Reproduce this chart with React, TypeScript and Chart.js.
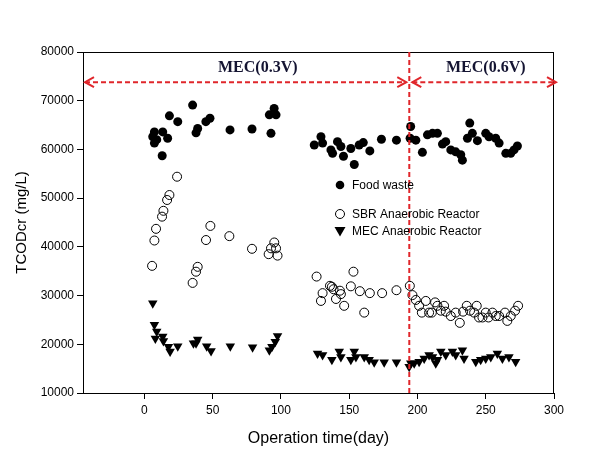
import React, { useEffect, useRef } from "react";
import { Chart, registerables } from "chart.js";
Chart.register(...registerables);

const foodDays = [6.1, 7.3, 7.3, 9, 13.4, 13, 17, 18.3, 24.4, 35.3, 37.8, 39, 45, 48, 62.7, 78.8, 91.5, 92.7, 95, 96.4,
  124.4, 129.3, 130.5, 136.6, 137.8, 141.4, 143.9, 145.8, 151.2, 153.7, 157.3, 160.3, 165.1, 173.6, 184.6,
  195, 194.6, 198.8, 203.6, 207.3, 211, 214.6, 218.3, 220.7, 224.4, 228, 232.9, 231.7, 238.3, 236.6, 240.2,
  243.9, 250, 252.4, 257.3, 259.8, 264.7, 268.3, 270.7, 273.2];
const foodValues = [62600, 63600, 61300, 62000, 63600, 58700, 62300, 66900, 65700, 69100, 63400, 64300, 65700, 66400, 64000, 64200, 67100, 63300, 68400, 67100,
  60900, 62600, 61300, 59900, 59200, 61600, 60600, 58600, 60200, 56900, 60900, 61400, 59700, 62100, 61900,
  64700, 62300, 61900, 59400, 63000, 63300, 63300, 61100, 61600, 59900, 59500, 57800, 58900, 65400, 62300, 63300,
  61800, 63300, 62600, 62300, 61300, 59200, 59200, 59900, 60700];

const sbrDays = [5.6, 7.3, 8.5, 12.9, 13.9, 16.6, 18.3, 23.9, 35.3, 37.8, 39, 45.1, 48.3, 62.2, 78.8, 91, 92.7, 95.1, 96.4, 97.5,
  126.1, 129.3, 130.5, 135.9, 137.3, 138.5, 140.3, 143.2, 143.9, 146.3, 151.2, 153.1, 157.8, 161, 165.1, 174.1, 184.6,
  194.4, 196.3, 198.8, 201.2, 203.2, 206.1, 208.5, 210.5, 212.9, 214.6, 217.1, 219.5, 220.7, 224.4, 228, 231, 233.4,
  236.1, 238.5, 241.5, 243.4, 245.1, 247.6, 250, 252, 254.9, 257.3, 259.8, 264.1, 265.8, 268.3, 271.5, 273.7];
const sbrValues = [36100, 41300, 43700, 46200, 47400, 49620, 50640, 54400, 32600, 34900, 35900, 41400, 44300, 42200, 39600, 38500, 39700, 40900, 39700, 38200,
  33900, 28900, 30500, 32000, 31800, 31300, 29300, 31000, 30300, 27900, 31900, 34900, 30900, 26500, 30500, 30500, 31100,
  32000, 30100, 29100, 27900, 26500, 28900, 26500, 26500, 28600, 27900, 26900, 27900, 26700, 25800, 26500, 24400, 26700,
  27900, 26900, 26500, 27900, 25500, 25500, 26500, 25500, 26500, 25800, 25800, 26500, 24800, 25800, 26900, 27900];

const mecDays = [6.1, 7.3, 9, 8, 13.4, 13.9, 17.6, 18.8, 24.4, 35.9, 39, 37.8, 45.6, 48.8, 62.9, 79.2, 91.5, 93.4, 95.8, 97.5,
  126.8, 130.5, 137.3, 142.7, 143.9, 151.2, 153.7, 154.9, 161, 164.6, 168.3, 175.6, 184.6,
  193.9, 195.1, 197.6, 201.2, 204.9, 208.5, 211, 213.4, 214.6, 217.1, 220.7, 225.6, 228, 232.9, 234.1,
  242.7, 246.3, 250, 253.7, 258.5, 262.2, 267, 271.9];
const mecValues = [28400, 24000, 22600, 21200, 21600, 20700, 19500, 18500, 19600, 20200, 21000, 20200, 19600, 18600, 19600, 19400, 18800, 19500, 20500, 21700,
  18100, 17800, 16800, 18500, 17400, 16800, 18500, 17400, 17400, 16800, 16300, 16300, 16300,
  15400, 16100, 16100, 16400, 17100, 17800, 17400, 16100, 16800, 18500, 17800, 18500, 17800, 18800, 17100,
  16400, 16800, 17100, 17400, 18100, 17100, 17400, 16400];

const xTicks = [0, 50, 100, 150, 200, 250, 300];
const yTicks = [10000, 20000, 30000, 40000, 50000, 60000, 70000, 80000];
const seriesNames = ["Food waste", "SBR Anaerobic Reactor", "MEC Anaerobic Reactor"];
const phaseBoundary = 194;
const phaseLabels = ["MEC(0.3V)", "MEC(0.6V)"];
const phaseLabelDays = [83, 250];
const arrowLevel = 73800;
const phaseLabelLevel = 76700;

const toPts = (xs: number[], ys: number[]) => xs.map((x, i) => ({ x, y: ys[i] }));

const SANS = "Arial, 'Liberation Sans', sans-serif";
const SERIF = "'Times New Roman', 'Liberation Serif', serif";
const RED = "#e0262b";

const overlay = {
  id: "overlay",
  afterDatasetsDraw(chart: any) {
    const ctx = chart.ctx;
    const { left, right, top, bottom } = chart.chartArea;
    const xs = chart.scales.x;
    const ys = chart.scales.y;
    ctx.save();
    ctx.strokeStyle = "#000";
    ctx.lineWidth = 1;
    ctx.strokeRect(left + 0.5, top + 0.5, right - left - 1, bottom - top);

    const bx = xs.getPixelForValue(phaseBoundary);
    const ay = ys.getPixelForValue(arrowLevel);
    ctx.strokeStyle = RED;
    ctx.lineWidth = 2;
    ctx.setLineDash([5, 3]);
    ctx.beginPath();
    ctx.moveTo(bx, top);
    ctx.lineTo(bx, bottom);
    ctx.stroke();
    const segs = [[left + 2, bx - 3], [bx + 3, right + 2]];
    segs.forEach(([a, b]) => {
      ctx.setLineDash([5, 3]);
      ctx.beginPath();
      ctx.moveTo(a, ay);
      ctx.lineTo(b, ay);
      ctx.stroke();
      ctx.setLineDash([]);
      ctx.beginPath();
      ctx.moveTo(a + 9, ay - 5);
      ctx.lineTo(a, ay);
      ctx.lineTo(a + 9, ay + 5);
      ctx.moveTo(b - 9, ay - 5);
      ctx.lineTo(b, ay);
      ctx.lineTo(b - 9, ay + 5);
      ctx.stroke();
    });
    ctx.setLineDash([]);

    ctx.fillStyle = "#141432";
    ctx.font = `bold 16px ${SERIF}`;
    ctx.textAlign = "center";
    ctx.textBaseline = "middle";
    phaseLabels.forEach((t, i) => {
      ctx.fillText(t, xs.getPixelForValue(phaseLabelDays[i]), ys.getPixelForValue(phaseLabelLevel));
    });

    // legend
    const lx = 340;
    const lys = [185, 214, 231];
    ctx.font = `12px ${SANS}`;
    ctx.textAlign = "left";
    ctx.fillStyle = "#000";
    seriesNames.forEach((n, i) => {
      const y = lys[i];
      ctx.beginPath();
      if (i === 0) {
        ctx.arc(lx, y, 4.3, 0, Math.PI * 2);
        ctx.fill();
      } else if (i === 1) {
        ctx.lineWidth = 1;
        ctx.strokeStyle = "#000";
        ctx.arc(lx, y, 4.5, 0, Math.PI * 2);
        ctx.stroke();
      } else {
        ctx.moveTo(lx - 5.5, y - 4);
        ctx.lineTo(lx + 5.5, y - 4);
        ctx.lineTo(lx, y + 5.5);
        ctx.closePath();
        ctx.fill();
      }
      ctx.fillText(n, lx + 12, y + 1);
    });
    ctx.restore();
  },
};

export default function App() {
  const ref = useRef<HTMLCanvasElement | null>(null);
  useEffect(() => {
    if (!ref.current) return;
    const chart = new Chart(ref.current, {
      type: "scatter",
      data: {
        datasets: [
          {
            label: seriesNames[0],
            data: toPts(foodDays, foodValues),
            pointStyle: "circle",
            pointRadius: 4.5,
            backgroundColor: "#000",
            borderColor: "#000",
            borderWidth: 0,
          },
          {
            label: seriesNames[1],
            data: toPts(sbrDays, sbrValues),
            pointStyle: "circle",
            pointRadius: 4.5,
            backgroundColor: "rgba(0,0,0,0)",
            borderColor: "#000",
            borderWidth: 1,
          },
          {
            label: seriesNames[2],
            data: toPts(mecDays, mecValues),
            pointStyle: "triangle",
            rotation: 180,
            pointRadius: 5.5,
            backgroundColor: "#000",
            borderColor: "#000",
            borderWidth: 0,
          },
        ],
      },
      options: {
        animation: false,
        responsive: false,
        maintainAspectRatio: false,
        layout: { padding: { left: 0, right: 46, top: 52, bottom: 0 } },
        plugins: { legend: { display: false }, tooltip: { enabled: false } },
        scales: {
          x: {
            type: "linear",
            min: -45,
            max: 300,
            afterBuildTicks: (s: any) => {
              s.ticks = xTicks.map((v) => ({ value: v }));
            },
            afterFit: (s: any) => {
              s.height = 59;
            },
            grid: { display: true, drawOnChartArea: false, drawTicks: true, tickLength: 6, color: "#000" },
            border: { display: true, color: "#000" },
            ticks: { color: "#000", font: { family: SANS, size: 12 }, padding: 4, maxRotation: 0 },
            title: { display: true, text: "Operation time(day)", color: "#000", font: { family: SANS, size: 16 }, padding: { top: 0, bottom: 4 } },
          },
          y: {
            type: "linear",
            min: 10000,
            max: 80000,
            afterBuildTicks: (s: any) => {
              s.ticks = yTicks.map((v) => ({ value: v }));
            },
            afterFit: (s: any) => {
              s.width = 83;
            },
            grid: { display: true, drawOnChartArea: false, drawTicks: true, tickLength: 6, color: "#000" },
            border: { display: true, color: "#000" },
            ticks: { color: "#000", font: { family: SANS, size: 12 }, padding: 3, callback: (v: any) => String(v) },
            title: { display: true, text: "TCODcr (mg/L)", color: "#000", font: { family: SANS, size: 15 }, padding: { top: 13, bottom: 0 } },
          },
        },
      },
      plugins: [overlay],
    });
    return () => chart.destroy();
  }, []);
  return (
    <div style={{ position: "absolute", left: 0, top: 0, width: 600, height: 452, background: "#fff" }}>
      <canvas ref={ref} width={600} height={452} style={{ width: 600, height: 452 }} />
    </div>
  );
}
